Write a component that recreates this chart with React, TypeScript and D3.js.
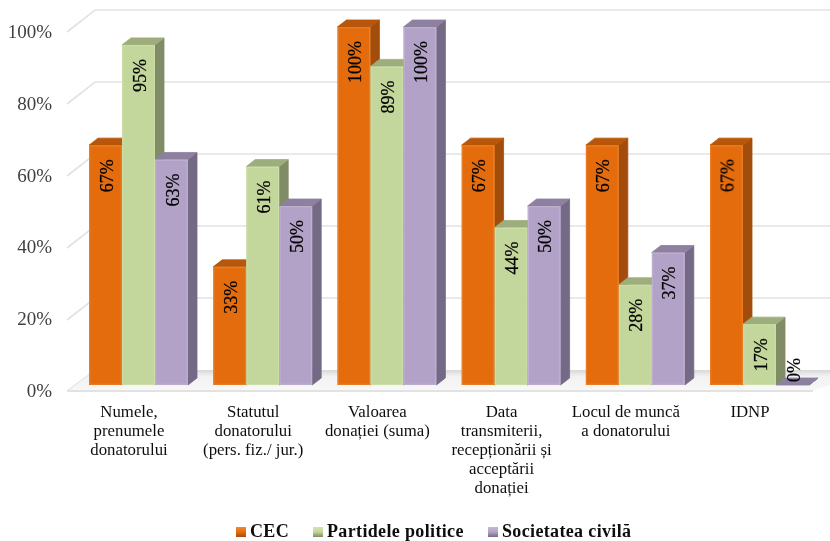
import React from "react";
import * as d3 from "d3";

const categories: string[][] = [
  ["Numele,", "prenumele", "donatorului"],
  ["Statutul", "donatorului", "(pers. fiz./ jur.)"],
  ["Valoarea", "donației (suma)"],
  ["Data", "transmiterii,", "recepționării și", "acceptării", "donației"],
  ["Locul de muncă", "a donatorului"],
  ["IDNP"],
];
const seriesNames = ["CEC", "Partidele politice", "Societatea civilă"];
const cec = [67, 33, 100, 67, 67, 67];
const partide = [95, 61, 89, 44, 28, 17];
const societate = [63, 50, 100, 50, 37, 0];
const seriesValues = [cec, partide, societate];
const ticks = [0, 20, 40, 60, 80, 100];
const fronts = ["#E46C0A", "#C3D69B", "#B3A2C7"];
const tops = ["#B85607", "#9DAD7C", "#8E80A0"];
const sides = ["#A34E07", "#7F8C65", "#746A85"];
const edges = ["#EE8A38", "#D3E3B0", "#C6B8D6"];
const legendX = [236, 313, 488];

const W = 830, H = 541;
const dx = 9, dy = -7;
const font = "'Liberation Serif', serif";

export default function App() {
  const yBar = d3.scaleLinear().domain([0, 100]).range([385, 27]);
  const yTick = d3.scaleLinear().domain([0, 100]).range([391, 32]);
  const yWall = d3.scaleLinear().domain([0, 100]).range([370, 10]);
  const xGroup = d3.scaleLinear().domain([0, 5]).range([89, 710]);
  const bw = 33;
  return (
    <svg width={W} height={H} style={{ position: "fixed", left: 0, top: 0, background: "#fff" }}>
      <defs>
        <linearGradient id="floor" x1="0" y1="0" x2="0" y2="1">
          <stop offset="0" stopColor="#d8d8d8" />
          <stop offset="0.3" stopColor="#f2f2f2" />
          <stop offset="1" stopColor="#f8f8f8" />
        </linearGradient>
        <filter id="soft" x="-5%" y="-5%" width="110%" height="110%">
          <feGaussianBlur stdDeviation="0.5" />
        </filter>
        <filter id="softText" x="-10%" y="-10%" width="120%" height="120%">
          <feGaussianBlur stdDeviation="0.35" />
        </filter>
        {fronts.map((c, i) => (
          <linearGradient key={i} id={`leg${i}`} x1="0" y1="0" x2="0" y2="1">
            <stop offset="0" stopColor={edges[i]} />
            <stop offset="0.5" stopColor={c} />
            <stop offset="1" stopColor={sides[i]} />
          </linearGradient>
        ))}
      </defs>
      <g filter="url(#soft)">
        <polygon points={`67,391 95,370 830,370 830,385 813,391`} fill="url(#floor)" />
        {ticks.slice(1).map((t) => (
          <path
            key={t}
            d={`M67,${yWall(t) + 22}L95,${yWall(t)}H830`}
            fill="none"
            stroke="#e2e2e2"
            strokeWidth={1.6}
          />
        ))}
        <path d="M67,391L95,370" stroke="#e8e8e8" strokeWidth={1.4} fill="none" />
        <path d="M67,391H813" stroke="#e2e2e2" strokeWidth={2} fill="none" />
        {categories.map((_, g) =>
          seriesValues.map((vals, s) => {
            const v = vals[g];
            const x0 = xGroup(g) + s * bw;
            const x1 = x0 + bw;
            const yt = yBar(v);
            const yb = yBar(0);
            return (
              <g key={`${g}-${s}`}>
                <polygon
                  points={`${x1},${yt} ${x1 + dx},${yt + dy} ${x1 + dx},${yb + dy} ${x1},${yb}`}
                  fill={sides[s]}
                  stroke={sides[s]}
                  strokeWidth={0.8}
                  strokeLinejoin="round"
                />
                <polygon
                  points={`${x0},${yt} ${x0 + dx},${yt + dy} ${x1 + dx},${yt + dy} ${x1},${yt}`}
                  fill={tops[s]}
                  stroke={tops[s]}
                  strokeWidth={0.8}
                  strokeLinejoin="round"
                />
                {v > 0 && (
                  <>
                    <rect x={x0} y={yt} width={bw} height={yb - yt} fill={fronts[s]} />
                    <rect
                      x={x0 + 0.8}
                      y={yt + 0.8}
                      width={bw - 1.6}
                      height={yb - yt - 1.6}
                      fill="none"
                      stroke={edges[s]}
                      strokeWidth={1}
                      opacity={0.7}
                    />
                  </>
                )}
              </g>
            );
          })
        )}
      </g>
      <g fontFamily={font} filter="url(#softText)">
        {categories.map((_, g) =>
          seriesValues.map((vals, s) => {
            const v = vals[g];
            const cx = xGroup(g) + s * bw + bw / 2;
            const yEnd = v === 0 ? yBar(0) - 27 : yBar(v) + 14;
            return (
              <text
                key={`${g}-${s}`}
                transform={`translate(${cx + 7},${yEnd}) rotate(-90)`}
                textAnchor="end"
                fontSize={18}
                stroke="#000"
                strokeWidth={0.25}
                fill="#000"
              >
                {v}%
              </text>
            );
          })
        )}
        {ticks.map((t) => (
          <text key={t} x={52} y={yTick(t) + 6} textAnchor="end" fontSize={19} fill="#404040">
            {t}%
          </text>
        ))}
        {categories.map((lines, g) =>
          lines.map((ln, i) => (
            <text
              key={i}
              x={xGroup(g) + 40}
              y={417 + i * 19}
              textAnchor="middle"
              fontSize={16.8}
              fill="#111"
            >
              {ln}
            </text>
          ))
        )}
        {seriesNames.map((n, i) => (
          <g key={n}>
            <rect x={legendX[i]} y={527} width={10} height={10} fill={`url(#leg${i})`} />
            <text
              x={legendX[i] + 14}
              y={537}
              fontSize={18}
              fontWeight="bold"
              letterSpacing={0.35}
              fill="#111"
            >
              {n}
            </text>
          </g>
        ))}
      </g>
    </svg>
  );
}
